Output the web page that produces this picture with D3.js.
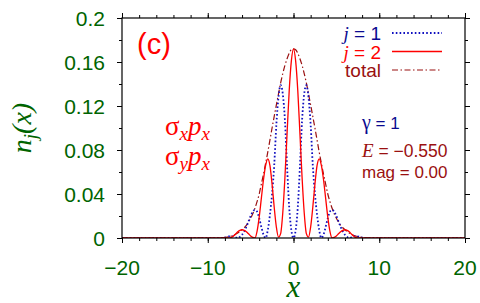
<!DOCTYPE html>
<html>
<head>
<meta charset="utf-8">
<script src="https://cdn.jsdelivr.net/npm/d3@7"></script>
<style>
  body { margin: 0; background: #fff; }
  svg { display: block; }
</style>
</head>
<body>
<svg id="chart" width="480" height="303"></svg>
<script>
// x grid of the sampled curves
var xGrid = [-20, -9, -8.75, -8.5, -8.25, -8, -7.75, -7.5, -7.25, -7, -6.75, -6.5, -6.25, -6, -5.75, -5.5, -5.25, -5,
  -4.75, -4.5, -4.25, -4, -3.75, -3.5, -3.25, -3, -2.75, -2.5, -2.25, -2, -1.75, -1.5, -1.25, -1, -0.75, -0.5, -0.25,
  0, 0.25, 0.5, 0.75, 1, 1.25, 1.5, 1.75, 2, 2.25, 2.5, 2.75, 3, 3.25, 3.5, 3.75, 4, 4.25, 4.5, 4.75, 5,
  5.25, 5.5, 5.75, 6, 6.25, 6.5, 6.75, 7, 7.25, 7.5, 7.75, 8, 8.25, 8.5, 8.75, 9, 20];

var nJ1 = [0,
  0, 0, 0, 0.0001, 0.0004, 0.0009, 0.0015, 0.0018, 0.0014, 0.0006, 0, 0.001, 0.003, 0.006, 0.010, 0.015, 0.020, 0.024,
  0.0255, 0.024, 0.018, 0.010, 0.003, 0, 0.007, 0.021, 0.040, 0.066, 0.103, 0.128, 0.139, 0.131, 0.107, 0.065, 0.028, 0.007,
  0,
  0.007, 0.028, 0.065, 0.107, 0.131, 0.139, 0.128, 0.103, 0.066, 0.040, 0.021, 0.007, 0, 0.003, 0.010, 0.018, 0.024, 0.0255,
  0.024, 0.020, 0.015, 0.010, 0.006, 0.003, 0.001, 0, 0.0006, 0.0014, 0.0018, 0.0015, 0.0009, 0.0004, 0.0001, 0, 0, 0,
  0];

var nJ2 = [0,
  0, 0, 0, 0, 0, 0, 0, 0.0006, 0.0019, 0.0037, 0.0056, 0.0070, 0.0075, 0.0070, 0.0057, 0.0038, 0.0018, 0.0005,
  0, 0.006, 0.019, 0.036, 0.053, 0.066, 0.072, 0.066, 0.049, 0.028, 0.010, 0.0008, 0.004, 0.023, 0.055, 0.095, 0.134, 0.161,
  0.172,
  0.161, 0.134, 0.095, 0.055, 0.023, 0.004, 0.0008, 0.010, 0.028, 0.049, 0.066, 0.072, 0.066, 0.053, 0.036, 0.019, 0.006, 0,
  0.0005, 0.0018, 0.0038, 0.0057, 0.0070, 0.0075, 0.0070, 0.0056, 0.0037, 0.0019, 0.0006, 0, 0, 0, 0, 0, 0, 0,
  0];

var nTotal = [0,
  0, 0.0001, 0.0002, 0.0004, 0.0006, 0.0009, 0.0013, 0.0018, 0.0025, 0.0034, 0.0045, 0.0059, 0.0075, 0.0093, 0.0115, 0.0145, 0.018, 0.022,
  0.027, 0.033, 0.040, 0.049, 0.058, 0.068, 0.078, 0.089, 0.100, 0.1105, 0.121, 0.131, 0.141, 0.1495, 0.157, 0.163, 0.168, 0.1712,
  0.172,
  0.1712, 0.168, 0.163, 0.157, 0.1495, 0.141, 0.131, 0.121, 0.1105, 0.100, 0.089, 0.078, 0.068, 0.058, 0.049, 0.040, 0.033, 0.027,
  0.022, 0.018, 0.0145, 0.0115, 0.0093, 0.0075, 0.0059, 0.0045, 0.0034, 0.0025, 0.0018, 0.0013, 0.0009, 0.0006, 0.0004, 0.0002, 0.0001, 0,
  0];

var xTicks = [-20, -10, 0, 10, 20];
var yTicks = [0, 0.04, 0.08, 0.12, 0.16, 0.2];
var yTickLabels = ["0", "0.04", "0.08", "0.12", "0.16", "0.2"];
var legendLabels = ["1", "2", "total"];

var green = "#006400";
var blue = "#1010c0";
var red = "#ff0000";
var darkRed = "#9a1010";

var svg = d3.select("#chart");
var pLeft = 122, pRight = 465, pTop = 18, pBottom = 238;

var x = d3.scaleLinear().domain([-20, 20]).range([pLeft, pRight]);
var y = d3.scaleLinear().domain([0, 0.2]).range([pBottom, pTop]);

svg.append("clipPath").attr("id", "clip")
  .append("rect")
  .attr("x", pLeft).attr("y", pTop - 1)
  .attr("width", pRight - pLeft).attr("height", pBottom - pTop + 1);

var plot = svg.append("g").attr("clip-path", "url(#clip)");

function lineFor(vals) {
  return d3.line()
    .x(function (d, i) { return x(xGrid[i]); })
    .y(function (d) { return y(d); })
    .curve(d3.curveMonotoneX)(vals);
}

plot.append("path")
  .attr("d", lineFor(nTotal))
  .attr("fill", "none")
  .attr("stroke", darkRed)
  .attr("stroke-width", 1.2)
  .attr("stroke-dasharray", "6,2.5,1.5,2.5");

plot.append("path")
  .attr("d", lineFor(nJ1))
  .attr("fill", "none")
  .attr("stroke", blue)
  .attr("stroke-width", 1.8)
  .attr("stroke-dasharray", "1.6,2.2");

plot.append("path")
  .attr("d", lineFor(nJ2))
  .attr("fill", "none")
  .attr("stroke", red)
  .attr("stroke-width", 1.3);

// axes, ticks outward on all four sides
var xMinor = d3.range(-20, 21, 2);
var yMinor = d3.range(0, 0.201, 0.02);

function tickAxis(axisFn, scale, vals, size, tr) {
  svg.append("g")
    .attr("transform", tr)
    .call(axisFn(scale).tickValues(vals).tickSize(size).tickFormat(""))
    .call(function (g) { g.select(".domain").remove(); })
    .selectAll("line").attr("stroke", "#000").attr("stroke-width", 1);
}

tickAxis(d3.axisBottom, x, xMinor, 3, "translate(0," + pBottom + ")");
tickAxis(d3.axisBottom, x, xTicks, 5, "translate(0," + pBottom + ")");
tickAxis(d3.axisTop, x, xMinor, 3, "translate(0," + pTop + ")");
tickAxis(d3.axisTop, x, xTicks, 5, "translate(0," + pTop + ")");
tickAxis(d3.axisLeft, y, yMinor, 3, "translate(" + pLeft + ",0)");
tickAxis(d3.axisLeft, y, yTicks, 5, "translate(" + pLeft + ",0)");
tickAxis(d3.axisRight, y, yMinor, 3, "translate(" + pRight + ",0)");
tickAxis(d3.axisRight, y, yTicks, 5, "translate(" + pRight + ",0)");

svg.append("rect")
  .attr("x", pLeft).attr("y", pTop)
  .attr("width", pRight - pLeft).attr("height", pBottom - pTop)
  .attr("fill", "none").attr("stroke", "#000").attr("stroke-width", 1.2);

var sans = "'Liberation Sans', Arial, sans-serif";
var serif = "'Liberation Serif', 'Times New Roman', serif";

svg.append("g").selectAll("text")
  .data(xTicks).enter().append("text")
  .attr("x", function (d) { return x(d); })
  .attr("y", 275)
  .attr("text-anchor", "middle")
  .attr("font-family", sans).attr("font-size", 21)
  .attr("fill", green)
  .text(function (d) { return d < 0 ? "\u2212" + (-d) : d; });

svg.append("g").selectAll("text")
  .data(yTicks).enter().append("text")
  .attr("x", 105)
  .attr("y", function (d) { return y(d) + 7.5; })
  .attr("text-anchor", "end")
  .attr("font-family", sans).attr("font-size", 21)
  .attr("fill", green)
  .text(function (d, i) { return yTickLabels[i]; });

svg.append("text")
  .attr("x", (pLeft + pRight) / 2).attr("y", 297)
  .attr("text-anchor", "middle")
  .attr("font-family", serif).attr("font-style", "italic").attr("font-size", 31)
  .attr("fill", green)
  .text("x");

var yTitle = svg.append("text")
  .attr("transform", "translate(31," + (pTop + pBottom) / 2 + ") rotate(-90)")
  .attr("text-anchor", "middle")
  .attr("font-family", serif).attr("font-style", "italic").attr("font-size", 28)
  .attr("fill", green);
yTitle.append("tspan").text("n");
yTitle.append("tspan").attr("font-size", 19).attr("dy", 6).text("j");
yTitle.append("tspan").attr("dy", -6).text("(x)");

// panel tag
svg.append("text")
  .attr("x", 137).attr("y", 54)
  .attr("font-family", sans).attr("font-size", 29)
  .attr("fill", red)
  .text("(c)");

// legend
var legendColors = [blue, red, darkRed];
var legendDash = ["1.6,2.2", null, "6,2.5,1.5,2.5"];
var legendWidth = [1.8, 1.3, 1.2];
var leg = svg.append("g");
legendLabels.forEach(function (lab, i) {
  var ly = 33 + i * 18.5;
  var t = leg.append("text")
    .attr("x", 381).attr("y", ly + 7)
    .attr("text-anchor", "end")
    .attr("font-family", sans).attr("font-size", 19)
    .attr("fill", i == 0 ? "#0a0a90" : legendColors[i]);
  if (lab == "total") {
    t.text(lab);
  } else {
    t.append("tspan").attr("font-family", serif).attr("font-style", "italic").text("j");
    t.append("tspan").text(" = " + lab);
  }
  leg.append("line")
    .attr("x1", 392).attr("x2", 442)
    .attr("y1", ly).attr("y2", ly)
    .attr("stroke", legendColors[i])
    .attr("stroke-width", legendWidth[i])
    .attr("stroke-dasharray", legendDash[i]);
});

// sigma labels
function sigmaLabel(sub, yb) {
  var t = svg.append("text")
    .attr("x", 165).attr("y", yb)
    .attr("font-family", serif).attr("font-size", 27)
    .attr("fill", red);
  t.append("tspan").text("\u03c3");
  t.append("tspan").attr("font-style", "italic").attr("font-size", 19).attr("dy", 5).text(sub);
  t.append("tspan").attr("font-style", "italic").attr("dy", -5).text("p");
  t.append("tspan").attr("font-style", "italic").attr("font-size", 19).attr("dy", 5).text("x");
}
sigmaLabel("x", 135);
sigmaLabel("y", 165);

var gText = svg.append("text")
  .attr("x", 362).attr("y", 129)
  .attr("font-family", sans).attr("font-size", 17)
  .attr("fill", "#0a0a90");
gText.append("tspan").attr("font-family", serif).attr("font-size", 20).text("\u03b3");
gText.append("tspan").text(" = 1");

var eText = svg.append("text")
  .attr("x", 362).attr("y", 157)
  .attr("font-family", sans).attr("font-size", 17.5)
  .attr("fill", darkRed);
eText.append("tspan").attr("font-family", serif).attr("font-style", "italic").attr("font-size", 19).text("E");
eText.append("tspan").text(" = \u22120.550");

svg.append("text")
  .attr("x", 362).attr("y", 178)
  .attr("font-family", sans).attr("font-size", 17)
  .attr("fill", darkRed)
  .text("mag = 0.00");
</script>
</body>
</html>
